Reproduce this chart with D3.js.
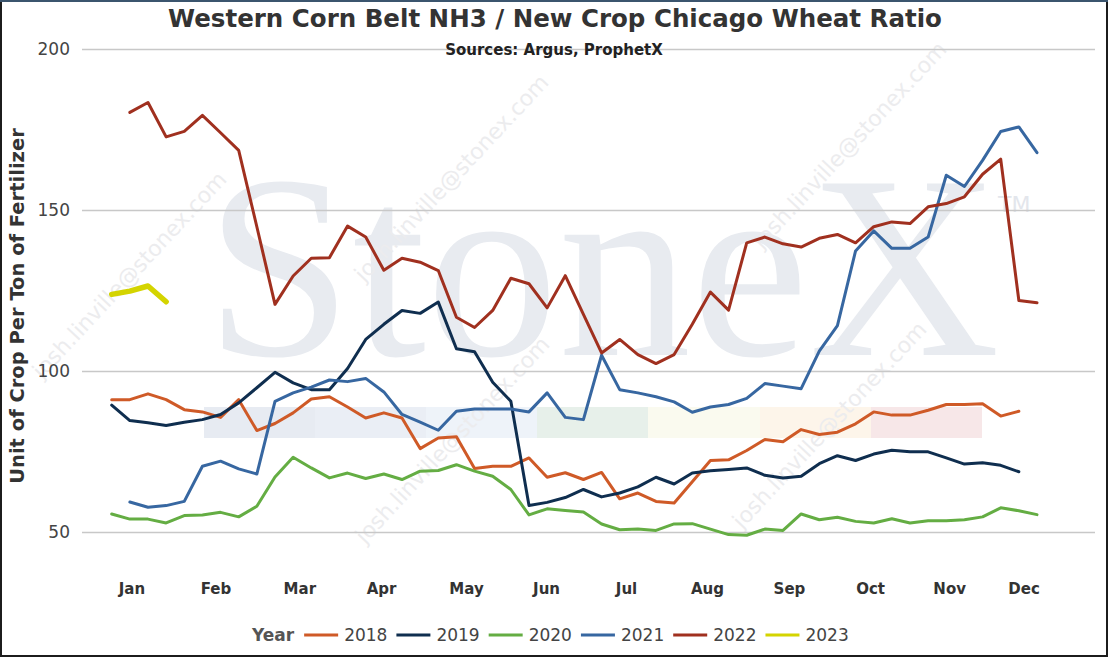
<!DOCTYPE html>
<html>
<head>
<meta charset="utf-8">
<script src="https://cdn.jsdelivr.net/npm/d3@7"></script>
<style>
  html, body { margin: 0; padding: 0; background: #fff; }
  svg { display: block; font-family: "DejaVu Sans", Verdana, sans-serif; }
</style>
</head>
<body>
<svg id="chart" width="1108" height="657"></svg>
<script>
// weekly ratio values, one entry per week (null = no data that week)
const v2018 = [91.1, 91.1, 92.9, 91.1, 88.0, 87.3, 85.6, 91.1, 81.5, 83.7, 87.0, 91.3, 92.0, 88.8, 85.4, 87.0, 85.4, 75.9, 79.2, 79.6,
  69.7, 70.4, 70.4, 73.0, 67.0, 68.4, 66.3, 68.5, 60.3, 62.1, 59.5, 59.0, 65.6, 72.2, 72.4, 75.3, 78.7, 78.0, 81.8, 80.3,
  81.0, 83.6, 87.3, 86.3, 86.3, 87.8, 89.6, 89.6, 89.8, 86.0, 87.5];
const v2019 = [89.4, 84.6, 83.9, 83.1, 84.1, 84.9, 86.5, 90.1, 94.8, 99.6, 96.3, 94.2, 94.2, 100.8, 109.8, 114.5, 118.8, 117.9, 121.4, 106.9,
  106.0, 96.5, 90.6, 58.2, 59.2, 60.7, 63.2, 60.9, 62.1, 64.0, 67.0, 64.9, 68.3, 69.0, 69.4, 69.9, 67.6, 66.8, 67.3, 71.2,
  73.7, 72.2, 74.2, 75.4, 74.9, 74.9, 73.0, 71.1, 71.5, 70.7, 68.7];
const v2020 = [55.6, 54.0, 54.0, 52.8, 55.1, 55.3, 56.1, 54.7, 58.0, 67.1, 73.2, 69.9, 66.8, 68.3, 66.6, 68.0, 66.3, 68.9, 69.1, 70.9,
  68.9, 67.3, 63.2, 55.3, 57.2, 56.7, 56.2, 52.5, 50.7, 50.9, 50.5, 52.5, 52.6, 50.9, 49.2, 49.0, 50.9, 50.5, 55.6, 53.8,
  54.6, 53.3, 52.8, 54.1, 52.8, 53.5, 53.5, 53.8, 54.7, 57.5, 56.6, 55.4];
const v2021 = [null, 59.3, 57.7, 58.2, 59.5, 70.4, 72.0, 69.6, 68.0, 90.6, 93.2, 95.0, 97.2, 96.7, 97.7, 93.5, 86.5, 84.1, 81.6, 87.5,
  88.2, 88.2, 88.2, 87.3, 93.2, 85.6, 84.9, 104.9, 94.2, 93.2, 92.0, 90.4, 87.2, 88.8, 89.6, 91.5, 96.1, 95.3, 94.5, 106.2,
  114.1, 137.3, 143.5, 138.1, 138.1, 141.6, 160.8, 157.3, 165.4, 174.4, 175.8, 167.8];
const v2022 = [null, 180.3, 183.4, 172.7, 174.4, 179.4, 174.0, 168.5, 144.8, 120.7, 129.5, 135.0, 135.2, 145.0, 141.6, 131.3, 135.0, 133.8, 131.2, 116.7,
  113.5, 118.8, 128.8, 127.1, 119.6, 129.6, 117.6, 105.6, 109.8, 105.1, 102.3, 105.1, 114.5, 124.5, 118.9, 139.8, 141.6, 139.5, 138.5, 141.2,
  142.4, 139.8, 144.8, 146.3, 145.8, 151.0, 152.0, 154.1, 161.1, 165.8, 121.9, 121.2];
const v2023 = [123.8, 124.8, 126.4, 121.5];

const years = ["2018", "2019", "2020", "2021", "2022", "2023"];
const colors = ["#cf5a27", "#0f2e4f", "#64ad43", "#3767a1", "#a0301f", "#d4d400"];
const seriesValues = [v2018, v2019, v2020, v2021, v2022, v2023];

// month labels and where they sit on the week axis
const months = ["Jan", "Feb", "Mar", "Apr", "May", "Jun", "Jul", "Aug", "Sep", "Oct", "Nov", "Dec"];
const monthWeeks = [1.09, 5.72, 10.34, 14.85, 19.53, 23.94, 28.35, 32.81, 37.33, 41.80, 46.16, 50.26];
const yTicks = [50, 100, 150, 200];

const svg = d3.select("#chart");
const W = 1108, H = 657;
const plotLeft = 82, plotRight = 1095;

const x = d3.scaleLinear().domain([0, 51]).range([111.7, 1037]);
const y = d3.scaleLinear().domain([50, 200]).range([532, 49]);

svg.append("rect").attr("width", W).attr("height", H).attr("fill", "#fff");

// ---- StoneX watermark ----
const wm = svg.append("g").attr("class", "watermark");
const band = [
  [204, 315, "#e7ebf2"], [315, 426, "#eaeef5"], [426, 537, "#eef3f9"], [537, 648, "#e7f0ea"],
  [648, 760, "#fafaef"], [760, 871, "#fdf5ea"], [871, 982, "#f7e7e8"]
];
band.forEach(b => {
  wm.append("rect").attr("x", b[0]).attr("y", 407).attr("width", b[1] - b[0]).attr("height", 31).attr("fill", b[2]);
});
wm.append("text")
  .attr("x", 205).attr("y", 355)
  .attr("font-family", "'Liberation Serif', 'DejaVu Serif', serif")
  .attr("font-size", 262)
  .attr("textLength", 795).attr("lengthAdjust", "spacingAndGlyphs")
  .attr("fill", "#e8ebf0")
  .text("StoneX");
wm.append("text")
  .attr("x", 998).attr("y", 212)
  .attr("font-size", 22).attr("fill", "#e3e6ec")
  .text("TM");

const marks = [[135, 280], [457, 183], [458, 445], [855, 150], [835, 430]];
marks.forEach(m => {
  wm.append("text")
    .attr("transform", `translate(${m[0]},${m[1]}) rotate(-47)`)
    .attr("text-anchor", "middle")
    .attr("font-size", 22)
    .attr("fill", "#ececee")
    .text("josh.linville@stonex.com");
});

// ---- gridlines / y axis ----
const yAxis = svg.append("g")
  .attr("transform", `translate(${plotLeft},0)`)
  .call(d3.axisLeft(y).tickValues(yTicks).tickSize(-(plotRight - plotLeft)).tickPadding(12));
yAxis.select(".domain").remove();
yAxis.selectAll(".tick line").attr("stroke", "#c8c8c8").attr("stroke-width", 1.5);
yAxis.selectAll(".tick text")
  .attr("font-family", "'DejaVu Sans', Verdana, sans-serif")
  .attr("font-size", 17).attr("fill", "#444");

// ---- x axis (month labels) ----
const xAxis = svg.append("g")
  .attr("transform", "translate(0,580)")
  .call(d3.axisBottom(x).tickValues(monthWeeks).tickFormat((d, i) => months[i]).tickSize(0));
xAxis.select(".domain").remove();
xAxis.selectAll(".tick text")
  .attr("font-family", "'DejaVu Sans', Verdana, sans-serif")
  .attr("font-size", 15).attr("font-weight", "bold").attr("fill", "#333");

// ---- lines ----
const line = d3.line()
  .defined(d => d != null)
  .x((d, i) => x(i))
  .y(d => y(d));

seriesValues.forEach((vals, k) => {
  svg.append("path")
    .datum(vals)
    .attr("fill", "none")
    .attr("stroke", colors[k])
    .attr("stroke-width", years[k] === "2023" ? 5.5 : 3)
    .attr("stroke-linejoin", "round")
    .attr("stroke-linecap", "round")
    .attr("d", line);
});

// ---- titles ----
svg.append("text")
  .attr("x", 555).attr("y", 27)
  .attr("text-anchor", "middle")
  .attr("font-size", 24.5).attr("font-weight", "bold").attr("fill", "#333")
  .text("Western Corn Belt NH3 / New Crop Chicago Wheat Ratio");
svg.append("text")
  .attr("x", 554).attr("y", 55)
  .attr("text-anchor", "middle")
  .attr("font-size", 15).attr("font-weight", "bold").attr("fill", "#222")
  .text("Sources: Argus, ProphetX");
svg.append("text")
  .attr("transform", "translate(24,306) rotate(-90)")
  .attr("text-anchor", "middle")
  .attr("font-size", 19.5).attr("font-weight", "bold").attr("fill", "#333")
  .text("Unit of Crop Per Ton of Fertilizer");

// ---- legend ----
const legend = svg.append("g").attr("transform", "translate(252,641)");
const yearLabel = legend.append("text")
  .attr("x", 0).attr("y", 0)
  .attr("font-size", 17).attr("font-weight", "bold").attr("fill", "#555")
  .text("Year");
let lx = yearLabel.node().getComputedTextLength() + 10;
years.forEach((yr, k) => {
  legend.append("line")
    .attr("x1", lx).attr("x2", lx + 34)
    .attr("y1", -6).attr("y2", -6)
    .attr("stroke", colors[k]).attr("stroke-width", 3);
  const t = legend.append("text")
    .attr("x", lx + 40).attr("y", 0)
    .attr("font-size", 17).attr("fill", "#444")
    .text(yr);
  lx += 40 + t.node().getComputedTextLength() + 9;
});

// frame
svg.append("rect").attr("x", 1).attr("y", 1).attr("width", W - 2).attr("height", H - 2)
  .attr("fill", "none").attr("stroke", "#1c1c1c").attr("stroke-width", 2);
svg.append("line").attr("x1", 0).attr("x2", W).attr("y1", 1).attr("y2", 1)
  .attr("stroke", "#3b556e").attr("stroke-width", 2);
</script>
</body>
</html>
